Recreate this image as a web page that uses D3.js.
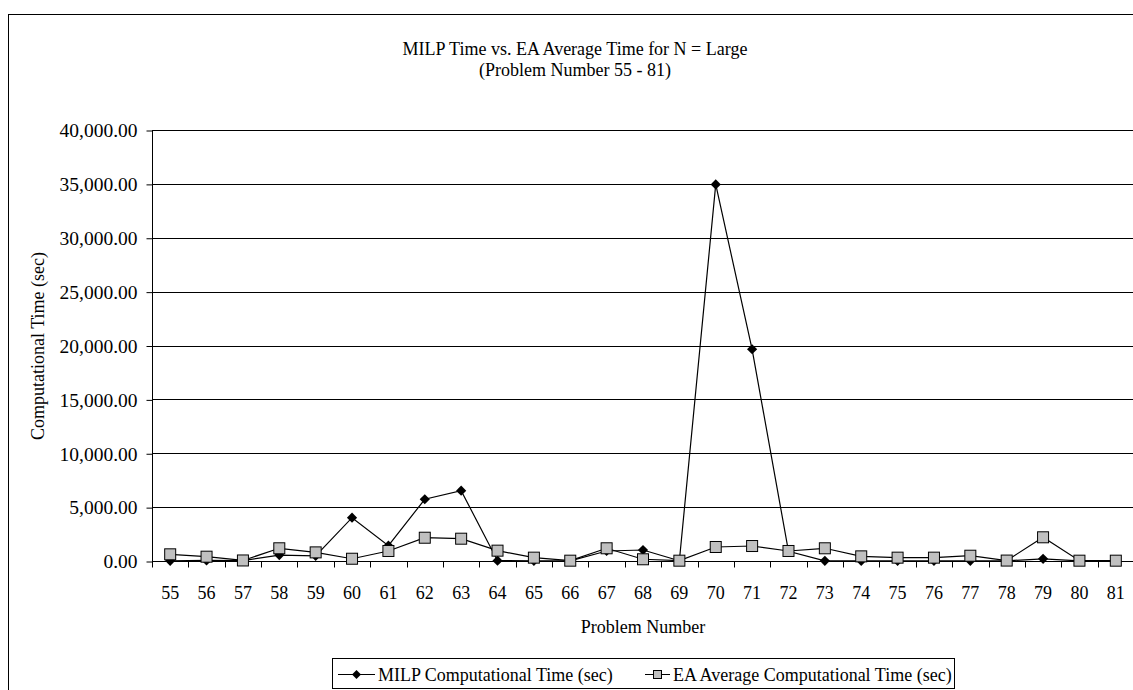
<!DOCTYPE html>
<html>
<head>
<meta charset="utf-8">
<script src="https://cdn.jsdelivr.net/npm/d3@7"></script>
<style>
  body { margin: 0; background: #fff; }
</style>
</head>
<body>
<span></span>
<script>
// MILP vs EA computational time, problems 55 - 81

var problems = d3.range(55, 82);
var milpTime = [20, 50, 30, 550, 480, 4020, 1420, 5730, 6530, 30, 20, 20, 930, 1020, 20,
                34950, 19650, 900, 20, 20, 20, 20, 20, 20, 200, 20, 20];
var eaTime = [620, 400, 50, 1180, 800, 210, 930, 2160, 2070, 960, 310, 30, 1180, 160, 30,
              1300, 1390, 930, 1180, 430, 310, 310, 490, 40, 2200, 30, 30];
var yTicks = [0, 5000, 10000, 15000, 20000, 25000, 30000, 35000, 40000];
var titleLines = ["MILP Time vs. EA Average Time for N = Large", "(Problem Number 55 - 81)"];
var seriesNames = ["MILP Computational Time (sec)", "EA Average Computational Time (sec)"];

var FONT = '"Liberation Serif", "Times New Roman", Times, "DejaVu Serif", serif';
var width = 1133, height = 690;
var margin = {top: 130, right: -1, bottom: 129, left: 152};

const svg = d3.select("span")
    .append("svg")
    .attr("width", width)
    .attr("height", height)
    .attr("font-family", FONT)
    .style("display", "block");

// outer chart frame (runs off the right and bottom of the picture)
svg.append("rect")
    .attr("x", 8.5).attr("y", 14.5)
    .attr("width", 1200).attr("height", 800)
    .attr("fill", "none").attr("stroke", "#000");

svg.selectAll(".title")
    .data(titleLines)
    .join("text")
    .attr("x", 575)
    .attr("y", (d, i) => 55 + i * 21)
    .attr("text-anchor", "middle")
    .style("font-family", FONT)
    .style("font-size", "18px")
    .text(d => d);

const xScale = d3.scaleBand()
    .domain(problems)
    .range([margin.left, width - margin.right]);
const yScale = d3.scaleLinear()
    .domain([0, 40000])
    .range([height - margin.bottom, margin.top]);

// gridlines
svg.append("g")
    .selectAll("line")
    .data(yTicks)
    .join("line")
    .attr("x1", margin.left).attr("x2", width)
    .attr("y1", d => Math.round(yScale(d)) + 0.5)
    .attr("y2", d => Math.round(yScale(d)) + 0.5)
    .attr("stroke", "#000");

function yAxis(g) {
    g.call(d3.axisLeft(yScale)
        .tickValues(yTicks)
        .tickFormat(d3.format(",.2f"))
        .tickSize(6)
        .tickPadding(9));
    g.attr("font-family", FONT);
    g.select(".domain").remove();
    g.selectAll("line").attr("stroke", "#000");
    g.selectAll("text")
        .style("font-family", FONT)
        .style("font-size", "19.5px");
}

svg.append("g")
    .attr("transform", `translate(${margin.left + 0.5}, 0.5)`)
    .call(yAxis);

// axis lines
var y0 = Math.round(yScale(0)) + 0.5;
svg.append("line")
    .attr("x1", margin.left + 0.5).attr("x2", margin.left + 0.5)
    .attr("y1", yScale(40000)).attr("y2", y0)
    .attr("stroke", "#000");

// x ticks sit on category boundaries
var bounds = problems.map(p => xScale(p)).concat([xScale.range()[1]]);
svg.append("g")
    .selectAll("line")
    .data(bounds)
    .join("line")
    .attr("x1", d => Math.round(d) + 0.5).attr("x2", d => Math.round(d) + 0.5)
    .attr("y1", y0).attr("y2", y0 + 6)
    .attr("stroke", "#000");

svg.append("g")
    .selectAll("text")
    .data(problems)
    .join("text")
    .attr("x", d => xScale(d) + xScale.bandwidth() / 2)
    .attr("y", y0 + 37)
    .attr("text-anchor", "middle")
    .style("font-family", FONT)
    .style("font-size", "18px")
    .text(d => d);

svg.append("text")
    .attr("x", 643)
    .attr("y", 633)
    .attr("text-anchor", "middle")
    .style("font-family", FONT)
    .style("font-size", "18px")
    .text("Problem Number");

svg.append("text")
    .attr("transform", "translate(44, 346) rotate(-90)")
    .attr("text-anchor", "middle")
    .style("font-family", FONT)
    .style("font-size", "18px")
    .text("Computational Time (sec)");

var cx = d => xScale(d) + xScale.bandwidth() / 2;

function drawLine(values) {
    svg.append("path")
        .datum(values)
        .attr("fill", "none")
        .attr("stroke", "#000")
        .attr("stroke-width", 1.2)
        .attr("d", d3.line()
            .x((d, i) => cx(problems[i]))
            .y(d => yScale(d)));
}

drawLine(milpTime);
drawLine(eaTime);

svg.append("g")
    .selectAll("path")
    .data(milpTime)
    .join("path")
    .attr("transform", (d, i) => `translate(${cx(problems[i])}, ${yScale(d)}) rotate(45)`)
    .attr("d", d3.symbol().type(d3.symbolSquare).size(52))
    .attr("fill", "#000");

svg.append("g")
    .selectAll("rect")
    .data(eaTime)
    .join("rect")
    .attr("x", (d, i) => cx(problems[i]) - 5.5)
    .attr("y", d => yScale(d) - 5.5)
    .attr("width", 11).attr("height", 11)
    .attr("fill", "#c0c0c0")
    .attr("stroke", "#000");

// legend
var legend = svg.append("g");
legend.append("rect")
    .attr("x", 332.5).attr("y", 658.5)
    .attr("width", 622).attr("height", 30)
    .attr("fill", "#fff").attr("stroke", "#000");

var legendItems = [
    {name: seriesNames[0], x0: 338, len: 37, tx: 378, kind: "diamond"},
    {name: seriesNames[1], x0: 645, len: 25, tx: 673, kind: "square"}
];
legendItems.forEach(function(it) {
    var ly = 674.5;
    legend.append("line")
        .attr("x1", it.x0).attr("x2", it.x0 + it.len)
        .attr("y1", ly).attr("y2", ly)
        .attr("stroke", "#000");
    if (it.kind === "diamond") {
        legend.append("path")
            .attr("transform", `translate(${it.x0 + it.len / 2}, ${ly}) rotate(45)`)
            .attr("d", d3.symbol().type(d3.symbolSquare).size(40))
            .attr("fill", "#000");
    } else {
        legend.append("rect")
            .attr("x", it.x0 + it.len / 2 - 4).attr("y", ly - 4)
            .attr("width", 8).attr("height", 8)
            .attr("fill", "#c0c0c0").attr("stroke", "#000");
    }
    legend.append("text")
        .attr("x", it.tx)
        .attr("y", ly + 6)
        .style("font-family", FONT)
        .style("font-size", "18px")
        .text(it.name);
});
</script>
</body>
</html>
